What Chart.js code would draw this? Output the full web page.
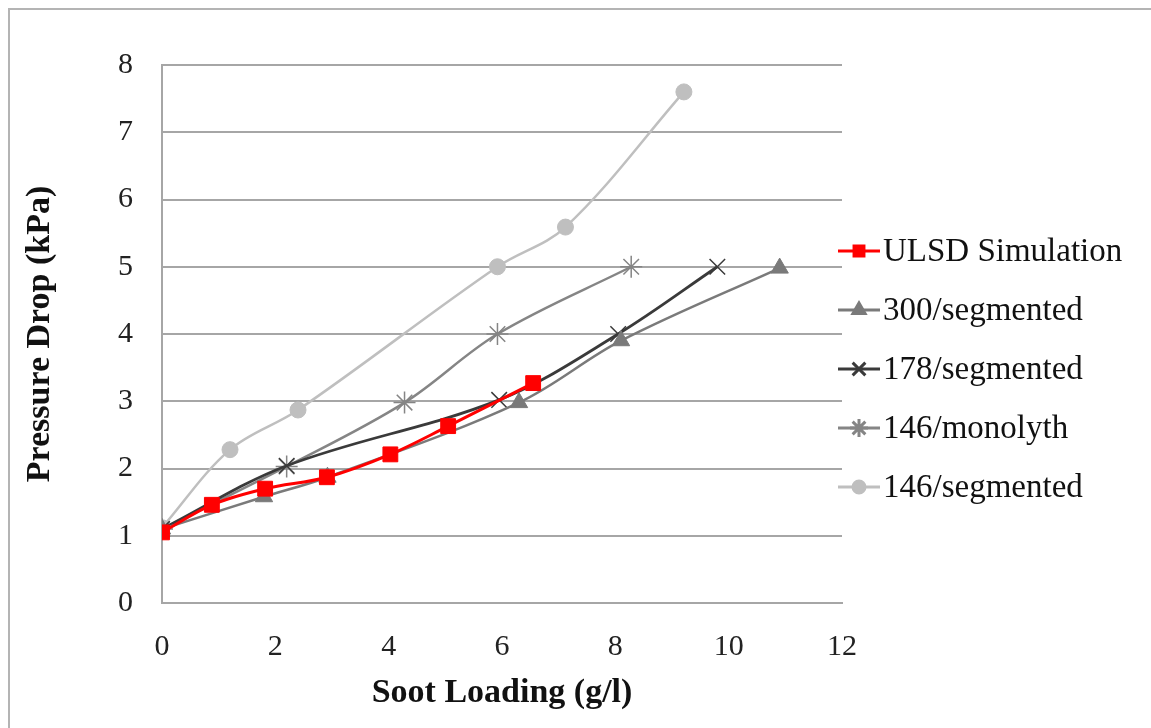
<!DOCTYPE html>
<html>
<head>
<meta charset="utf-8">
<script src="https://cdn.jsdelivr.net/npm/chart.js@4/dist/chart.umd.min.js"></script>
<style>
  html, body { margin: 0; padding: 0; background: #ffffff; }
  #wrap { position: relative; width: 1151px; height: 728px; }
</style>
</head>
<body>
<div id="wrap"><canvas id="c" width="1151" height="728"></canvas></div>
<script>
// Soot loading (g/l) vs pressure drop (kPa) for each filter configuration
const seriesNames = ['ULSD Simulation', '300/segmented', '178/segmented', '146/monolyth', '146/segmented'];

const ulsdX = [0, 0.88, 1.82, 2.91, 4.03, 5.05, 6.55];
const ulsdY = [1.05, 1.46, 1.70, 1.87, 2.21, 2.63, 3.27];

const seg300X = [0, 1.8, 2.92, 6.3, 8.1, 10.9];
const seg300Y = [1.1, 1.58, 1.87, 2.98, 3.9, 4.98];

const seg178X = [0, 2.2, 5.95, 8.05, 9.8];
const seg178Y = [1.1, 2.04, 3.02, 4.0, 5.0];

const mono146X = [0, 2.2, 4.28, 5.92, 8.28];
const mono146Y = [1.1, 2.03, 2.98, 4.0, 5.0];

const seg146X = [0, 1.2, 2.4, 5.92, 7.12, 9.21];
const seg146Y = [1.12, 2.28, 2.87, 5.0, 5.59, 7.6];

const xTicks = [0, 2, 4, 6, 8, 10, 12];
const yTicks = [0, 1, 2, 3, 4, 5, 6, 7, 8];

const pts = (xs, ys) => xs.map((x, i) => ({ x: x, y: ys[i] }));

const SERIF = '"Liberation Serif", "Times New Roman", serif';

function series(label, xs, ys, color, style, radius, lineW, legendRadius) {
  return {
    label: label,
    data: pts(xs, ys),
    showLine: true,
    borderColor: color,
    backgroundColor: color,
    pointBackgroundColor: color,
    pointBorderColor: color,
    pointStyle: style,
    pointRadius: radius,
    pointBorderWidth: (style === 'crossRot' || style === 'star') ? 1.5 : 1,
    borderWidth: lineW,
    tension: 0.35,
    legendRadius: legendRadius
  };
}

const datasets = [
  series(seriesNames[0], ulsdX, ulsdY, '#ff0000', 'rect', 10.5, 3, 7),
  series(seriesNames[1], seg300X, seg300Y, '#7a7a7a', 'triangle', 10, 2.5, 7),
  series(seriesNames[2], seg178X, seg178Y, '#3a3a3a', 'crossRot', 11, 2.8, 9),
  series(seriesNames[3], mono146X, mono146Y, '#858585', 'star', 11, 2.5, 9),
  series(seriesNames[4], seg146X, seg146Y, '#bfbfbf', 'circle', 8, 2.5, 6)
];

// Outer frame of the figure
const framePlugin = {
  id: 'frame',
  beforeDraw(chart) {
    const ctx = chart.ctx;
    ctx.save();
    ctx.fillStyle = '#ffffff';
    ctx.fillRect(0, 0, chart.width, chart.height);
    ctx.strokeStyle = '#b4b4b4';
    ctx.lineWidth = 2;
    ctx.beginPath();
    ctx.moveTo(9, chart.height);
    ctx.lineTo(9, 9);
    ctx.lineTo(chart.width, 9);
    ctx.stroke();
    ctx.restore();
  }
};

// Legend: line segment with the series marker, then the label
const legendPlugin = {
  id: 'sideLegend',
  afterDraw(chart) {
    const ctx = chart.ctx;
    const x0 = chart.chartArea.right - 4;
    const x1 = x0 + 42;
    const top = 251;
    const step = 59;
    ctx.save();
    chart.data.datasets.forEach((ds, i) => {
      const y = top + i * step;
      ctx.strokeStyle = ds.borderColor;
      ctx.lineWidth = 3;
      ctx.beginPath();
      ctx.moveTo(x0, y);
      ctx.lineTo(x1, y);
      ctx.stroke();
      ctx.fillStyle = ds.backgroundColor;
      ctx.strokeStyle = ds.borderColor;
      Chart.helpers.drawPoint(ctx, {
        pointStyle: ds.pointStyle,
        radius: ds.legendRadius,
        rotation: 0,
        borderWidth: ds.pointBorderWidth
      }, (x0 + x1) / 2, y);
      ctx.fillStyle = '#111111';
      ctx.font = '33px ' + SERIF;
      ctx.textBaseline = 'middle';
      ctx.textAlign = 'left';
      ctx.fillText(ds.label, x1 + 3, y + 1);
    });
    ctx.restore();
  }
};

new Chart(document.getElementById('c'), {
  type: 'scatter',
  data: { datasets: datasets },
  plugins: [framePlugin, legendPlugin],
  options: {
    responsive: false,
    animation: false,
    layout: { padding: { left: 0, top: 65, right: 309, bottom: 0 } },
    plugins: {
      legend: { display: false },
      tooltip: { enabled: false }
    },
    scales: {
      x: {
        type: 'linear',
        min: 0,
        max: 12,
        afterBuildTicks(scale) { scale.ticks = xTicks.map(v => ({ value: v })); },
        afterFit(scale) { scale.height = 125; },
        grid: { display: false, drawTicks: false },
        border: { display: true, color: '#a6a6a6', width: 2 },
        ticks: {
          color: '#222222',
          font: { family: SERIF, size: 30 },
          padding: 26
        },
        title: {
          display: true,
          text: 'Soot Loading (g/l)',
          color: '#111111',
          font: { family: SERIF, size: 34, weight: 'bold' },
          padding: { top: 0, bottom: 14 }
        }
      },
      y: {
        type: 'linear',
        min: 0,
        max: 8,
        afterBuildTicks(scale) { scale.ticks = yTicks.map(v => ({ value: v })); },
        afterFit(scale) { scale.width = 162; },
        grid: { color: '#a6a6a6', lineWidth: 2, drawTicks: false },
        border: { display: true, color: '#a6a6a6', width: 2 },
        ticks: {
          color: '#222222',
          font: { family: SERIF, size: 30 },
          padding: 29
        },
        title: {
          display: true,
          text: 'Pressure Drop (kPa)',
          color: '#111111',
          font: { family: SERIF, size: 34, weight: 'bold' },
          padding: { top: 20, bottom: 0 }
        }
      }
    }
  }
});
</script>
</body>
</html>
